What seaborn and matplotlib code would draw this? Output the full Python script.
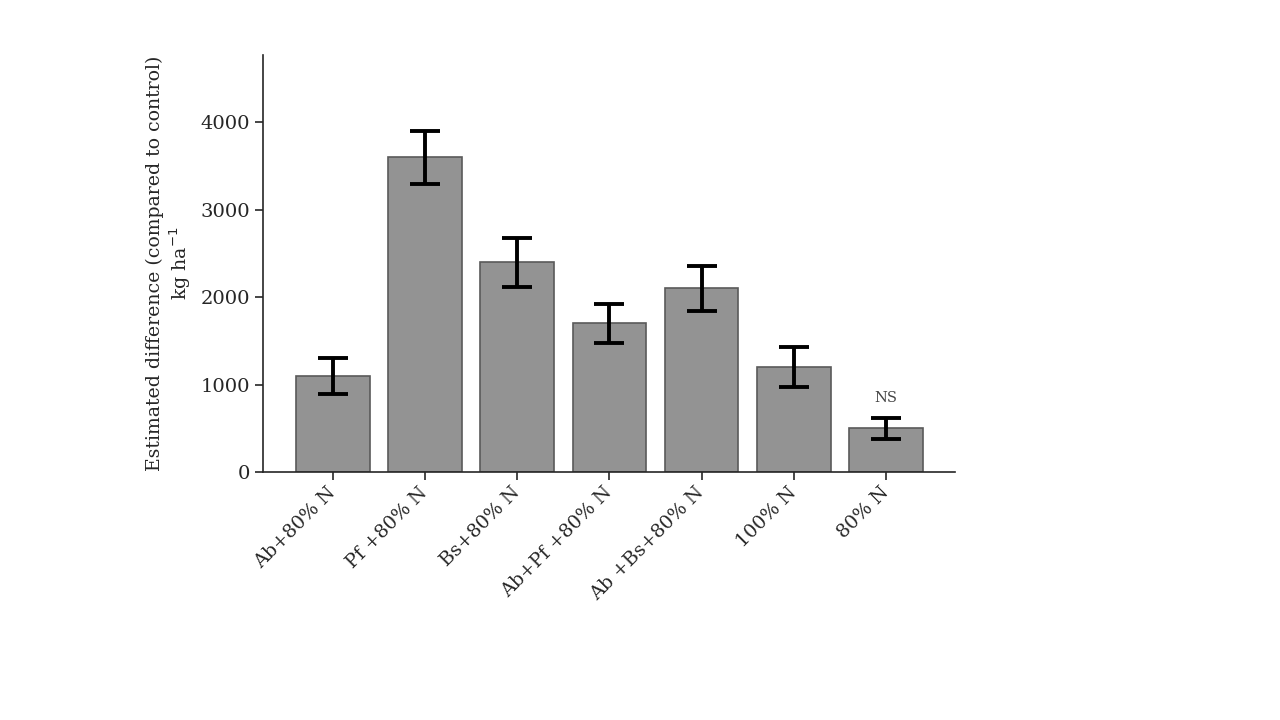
import matplotlib
matplotlib.use("Agg")
import matplotlib.pyplot as plt
import seaborn as sns
import pandas as pd

sns.set_style("ticks")
plt.rcParams['font.family'] = ['DejaVu Serif']

treatments = ["Ab+80% N", "Pf +80% N", "Bs+80% N", "Ab+Pf +80% N",
              "Ab +Bs+80% N", "100% N", "80% N"]
estimates = [1100, 3600, 2400, 1700, 2100, 1200, 500]
errors = [205, 300, 280, 225, 260, 230, 120]

df = pd.DataFrame({"Treatment": treatments, "Estimate": estimates, "Error": errors})

fig = plt.figure(figsize=(12.8, 7.2), dpi=100)
ax = fig.add_axes([0.2055, 0.3444, 0.5405, 0.5792])

sns.barplot(data=df, x="Treatment", y="Estimate", color="#939393",
            edgecolor="#5a5a5a", linewidth=1.2, width=0.8, errorbar=None,
            saturation=1, ax=ax)
ax.errorbar(range(len(df)), df["Estimate"], yerr=df["Error"], fmt="none",
            ecolor="black", elinewidth=2.8, capsize=11, capthick=2.8)

# non-significant marker on the last treatment
ax.text(6, df["Estimate"].iloc[6] + df["Error"].iloc[6] + 150, "NS",
        ha="center", va="bottom", fontsize=10.5, color="#444444")

ax.set_xlim(-0.76, 6.75)
ax.set_ylim(0, 4770)
ax.set_yticks([0, 1000, 2000, 3000, 4000])
ax.set_xlabel("")
ax.set_ylabel("Estimated difference (compared to control)\nkg ha$^{-1}$",
              fontsize=13.6, labelpad=5)
ax.tick_params(axis="both", labelsize=14, length=6, width=1.2, direction="out")
ax.tick_params(axis="x", pad=7)
plt.setp(ax.get_xticklabels(), rotation=45, ha="right", va="center",
         rotation_mode="anchor", fontsize=13.7)
for s in ["left", "bottom"]:
    ax.spines[s].set_linewidth(1.2)
sns.despine(ax=ax)

fig.savefig("out.png", dpi=100, facecolor="white")
